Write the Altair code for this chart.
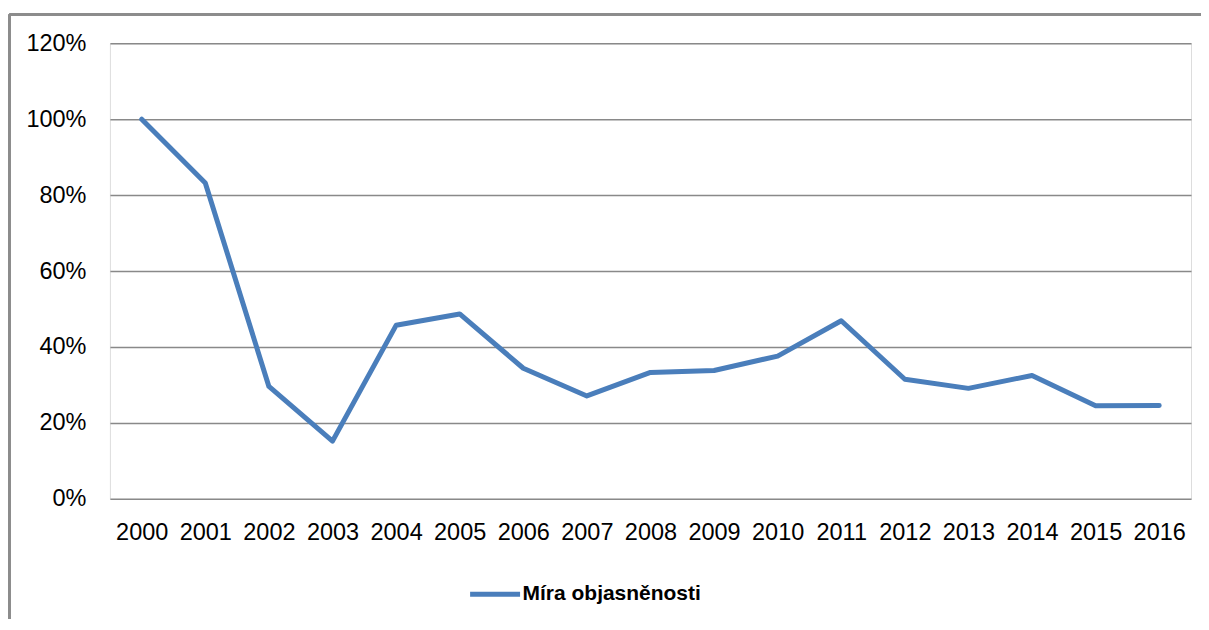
import altair as alt
import pandas as pd

years = ["2000", "2001", "2002", "2003", "2004", "2005", "2006", "2007", "2008",
         "2009", "2010", "2011", "2012", "2013", "2014", "2015", "2016"]
values = [1.00, 0.832, 0.296, 0.152, 0.457, 0.487, 0.344, 0.271, 0.333,
          0.338, 0.376, 0.469, 0.315, 0.291, 0.325, 0.245, 0.246]
series_name = "Míra objasněnosti"
y_ticks = [0, 0.2, 0.4, 0.6, 0.8, 1.0, 1.2]

df = pd.DataFrame({"Rok": years, "Hodnota": values, "Serie": [series_name] * len(years)})

FONT = "Liberation Sans"
BLUE = "#4A7EBB"
FRAME = "#8c8c8c"

line = alt.Chart(df).mark_line(strokeWidth=5, strokeJoin="round", strokeCap="round").encode(
    x=alt.X("Rok:N", sort=years, title=None,
            scale=alt.Scale(type="point", padding=0.5),
            axis=alt.Axis(labelAngle=0, ticks=False, tickSize=0, domain=False, grid=False,
                          labelFontSize=23.5, labelFont=FONT, labelColor="#000000",
                          labelPadding=22)),
    y=alt.Y("Hodnota:Q", title=None,
            scale=alt.Scale(domain=[0, 1.2], nice=False),
            axis=alt.Axis(values=y_ticks, format=".0%", ticks=False, tickSize=0, domain=False,
                          grid=True, gridColor="#898989", gridWidth=1.5,
                          labelFontSize=23.5, labelFont=FONT, labelColor="#000000",
                          labelPadding=24)),
    color=alt.Color("Serie:N", title=None,
                    scale=alt.Scale(domain=[series_name], range=[BLUE]),
                    legend=alt.Legend(orient="none", legendX=358, legendY=524,
                                      symbolType="stroke", symbolSize=2500,
                                      symbolStrokeWidth=5, labelFontSize=21,
                                      labelFont=FONT, labelFontWeight="bold",
                                      labelColor="#000000", labelOffset=0,
                                      labelLimit=0, padding=0)),
)

frame_top = alt.Chart(df).mark_rule(color=FRAME, strokeWidth=2).encode(
    x=alt.value(-100.5), x2=alt.value(1120), y=alt.value(-28.5))
frame_left = alt.Chart(df).mark_rule(color=FRAME, strokeWidth=2).encode(
    x=alt.value(-100.5), y=alt.value(-28.5), y2=alt.value(600))

chart = alt.layer(frame_top, frame_left, line).properties(
    width=1082, height=456,
    autosize=alt.AutoSizeParams(type="none"),
    padding={"left": 102, "top": 35, "right": 10, "bottom": 120},
).configure_view(stroke=None).configure(background="white")

chart.save("out.html", embed_options={"renderer": "svg", "actions": False})
